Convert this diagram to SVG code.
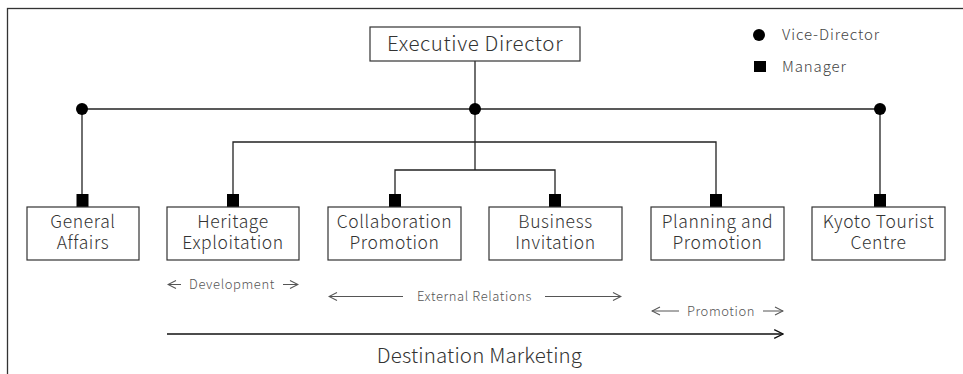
<svg xmlns="http://www.w3.org/2000/svg" width="963" height="374" viewBox="0 0 963 374">
  <defs>
    <style>
      .box { fill: #fff; stroke: #333; stroke-width: 1.2; }
      .wire { fill: none; stroke: #222; stroke-width: 1.3; }
      .lbl { font-family: "Noto Sans CJK JP", "Noto Sans", sans-serif; font-weight: 300; font-size: 17.5px; letter-spacing: 0.6px; fill: #333; text-anchor: middle; }
      .big { font-size: 20.5px; letter-spacing: 0.6px; }
      .span { font-family: "Noto Sans CJK JP", "Noto Sans", sans-serif; font-weight: 300; font-size: 13px; letter-spacing: 0.6px; fill: #555; text-anchor: middle; }
      .lg { font-family: "Noto Sans CJK JP", "Noto Sans", sans-serif; font-weight: 300; font-size: 15px; letter-spacing: 0.9px; fill: #444; }
      .rng { fill: none; stroke: #555; stroke-width: 1; }
      .rng-dark { fill: none; stroke: #111; stroke-width: 1.3; }
    </style>
    <marker id="open" viewBox="0 0 10 10" refX="9" refY="5" markerWidth="10" markerHeight="10" markerUnits="userSpaceOnUse" orient="auto">
      <polyline points="1,1 9,5 1,9" fill="none" stroke="#555" stroke-width="1.1"/>
    </marker>
    <marker id="openDark" viewBox="0 0 10 10" refX="9" refY="5" markerWidth="11" markerHeight="11" markerUnits="userSpaceOnUse" orient="auto">
      <polyline points="1,1 9,5 1,9" fill="none" stroke="#111" stroke-width="1.2"/>
    </marker>
  </defs>

  <rect width="963" height="374" fill="#fff"/>
  <!-- outer frame -->
  <rect x="7.5" y="8.5" width="1000" height="400" fill="none" stroke="#333" stroke-width="1.3"/>

  <!-- legend -->
  <g id="legend">
    <circle cx="759" cy="35" r="6" fill="#000"/>
    <text class="lg" x="782" y="40">Vice-Director</text>
    <rect x="754" y="61" width="12" height="11" fill="#000"/>
    <text class="lg" x="782" y="72">Manager</text>
  </g>

  <!-- connectors -->
  <g id="connectors">
    <line class="wire" x1="475" y1="61" x2="475" y2="109"/>
    <line class="wire" x1="82" y1="109" x2="880" y2="109"/>
    <line class="wire" x1="475" y1="109" x2="475" y2="170"/>
    <polyline class="wire" points="233,197 233,142 716,142 716,197"/>
    <polyline class="wire" points="395,197 395,170 555,170 555,197"/>
    <line class="wire" x1="82" y1="109" x2="82" y2="197"/>
    <line class="wire" x1="880" y1="109" x2="880" y2="197"/>
    <circle cx="82" cy="109" r="6" fill="#000"/>
    <circle cx="475" cy="109" r="6" fill="#000"/>
    <circle cx="880" cy="109" r="6" fill="#000"/>
    <rect x="76.5" y="194" width="12" height="13" fill="#000"/>
    <rect x="227" y="194" width="12" height="13" fill="#000"/>
    <rect x="389" y="194" width="12" height="13" fill="#000"/>
    <rect x="549" y="194" width="12" height="13" fill="#000"/>
    <rect x="710" y="194" width="12" height="13" fill="#000"/>
    <rect x="874" y="194" width="12" height="13" fill="#000"/>
  </g>

  <g id="executive-director">
    <rect class="box" x="370" y="27" width="210" height="34"/>
    <text class="lbl big" x="475" y="51">Executive Director</text>
  </g>

  <g id="general-affairs">
    <rect class="box" x="27" y="207" width="112" height="53"/>
    <text class="lbl" x="83" y="228">General</text>
    <text class="lbl" x="83" y="249">Affairs</text>
  </g>

  <g id="heritage-exploitation">
    <rect class="box" x="167" y="207" width="132" height="53"/>
    <text class="lbl" x="233" y="228">Heritage</text>
    <text class="lbl" x="233" y="249">Exploitation</text>
  </g>

  <g id="collaboration-promotion">
    <rect class="box" x="328" y="207" width="133" height="53"/>
    <text class="lbl" x="394.5" y="228">Collaboration</text>
    <text class="lbl" x="394.5" y="249">Promotion</text>
  </g>

  <g id="business-invitation">
    <rect class="box" x="489" y="207" width="133" height="53"/>
    <text class="lbl" x="555.5" y="228">Business</text>
    <text class="lbl" x="555.5" y="249">Invitation</text>
  </g>

  <g id="planning-promotion">
    <rect class="box" x="651" y="207" width="133" height="53"/>
    <text class="lbl" x="717.5" y="228">Planning and</text>
    <text class="lbl" x="717.5" y="249">Promotion</text>
  </g>

  <g id="kyoto-tourist-centre">
    <rect class="box" x="812" y="207" width="133" height="53"/>
    <text class="lbl" x="878.5" y="228">Kyoto Tourist</text>
    <text class="lbl" x="878.5" y="249">Centre</text>
  </g>

  <!-- functional spans -->
  <g id="development">
    <line class="rng" x1="181" y1="284.5" x2="168" y2="284.5" marker-end="url(#open)"/>
    <text class="span" x="232" y="289">Development</text>
    <line class="rng" x1="283" y1="284.5" x2="298" y2="284.5" marker-end="url(#open)"/>
  </g>

  <g id="external-relations">
    <line class="rng" x1="403" y1="296.5" x2="329" y2="296.5" marker-end="url(#open)"/>
    <text class="span" x="474.5" y="301">External Relations</text>
    <line class="rng" x1="545" y1="296.5" x2="621" y2="296.5" marker-end="url(#open)"/>
  </g>

  <g id="promotion">
    <line class="rng" x1="679" y1="311" x2="652" y2="311" marker-end="url(#open)"/>
    <text class="span" x="721" y="315.5">Promotion</text>
    <line class="rng" x1="763" y1="311" x2="783" y2="311" marker-end="url(#open)"/>
  </g>

  <g id="destination-marketing">
    <line class="rng-dark" x1="167" y1="334" x2="783" y2="334" marker-end="url(#openDark)"/>
    <text class="lbl" x="479.5" y="363" style="font-size:20.5px;letter-spacing:0.15px">Destination Marketing</text>
  </g>
</svg>
